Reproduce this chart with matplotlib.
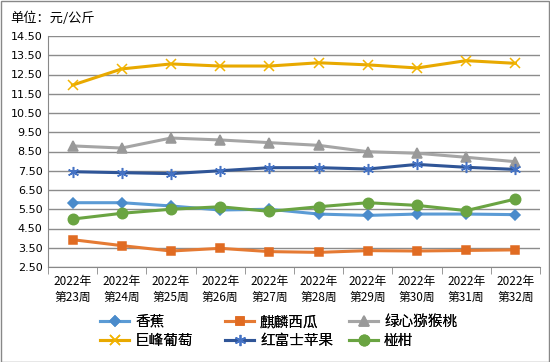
import numpy as np
import matplotlib
matplotlib.use('Agg')
import matplotlib.pyplot as plt
from matplotlib.patches import Rectangle

plt.rcParams['font.family'] = ['Noto Sans CJK SC', 'DejaVu Sans']

weeks = ['2022年\n第23周', '2022年\n第24周', '2022年\n第25周', '2022年\n第26周', '2022年\n第27周',
         '2022年\n第28周', '2022年\n第29周', '2022年\n第30周', '2022年\n第31周', '2022年\n第32周']

banana = [5.84, 5.84, 5.67, 5.46, 5.50, 5.25, 5.18, 5.25, 5.25, 5.22]
watermelon = [3.92, 3.61, 3.33, 3.47, 3.30, 3.26, 3.35, 3.33, 3.36, 3.39]
kiwi = [8.79, 8.68, 9.20, 9.10, 8.96, 8.82, 8.49, 8.41, 8.20, 7.97]
grape = [11.95, 12.79, 13.05, 12.94, 12.94, 13.11, 13.00, 12.84, 13.22, 13.08]
apple = [7.45, 7.40, 7.35, 7.50, 7.66, 7.66, 7.59, 7.83, 7.68, 7.57]
citrus = [4.99, 5.29, 5.50, 5.63, 5.39, 5.63, 5.84, 5.70, 5.43, 6.03]

yticks = np.arange(2.5, 14.51, 1.0)

series = [
    ('香蕉', banana, '#5B9BD5', '#4A8BCB', 'D', 5.5),
    ('麒麟西瓜', watermelon, '#E57A33', '#E06B22', 's', 6),
    ('绿心猕猴桃', kiwi, '#A5A5A5', '#999999', '^', 7),
    ('巨峰葡萄', grape, '#E8A900', '#F2B400', 'x', 7),
    ('红富士苹果', apple, '#2F5597', '#4472C4', (6, 2, 0), 8),
    ('椪柑', citrus, '#6AA442', '#6AA442', 'o', 7.5),
]

fig = plt.figure(figsize=(5.5, 3.62), dpi=100)
ax = fig.add_axes([48/550, 1 - 267/362, 492/550, 231/362])

x = np.arange(len(weeks))
handles = []
for name, vals, lc, mc, mk, ms in series:
    h, = ax.plot(x, vals, color=lc, lw=2.2, marker=mk, markersize=ms,
                 markerfacecolor=mc, markeredgecolor=mc, markeredgewidth=1.1, label=name)
    handles.append(h)

ax.set_xlim(-0.5, len(weeks) - 0.5)
ax.set_ylim(2.5, 14.5)
ax.set_yticks(yticks)
ax.set_yticklabels(['%.2f' % v for v in yticks], fontsize=8, family='DejaVu Sans')
ax.set_xticks(x)
ax.set_xticklabels(weeks, fontsize=8.5, linespacing=1.25)
ax.set_xticks(np.arange(-0.5, len(weeks)), minor=True)
ax.tick_params(axis='x', which='major', length=0, pad=6)
ax.tick_params(axis='x', which='minor', length=5, color='#888888')
ax.tick_params(axis='y', length=0, pad=4)
ax.grid(axis='y', color='#8C8C8C', lw=1)
ax.set_axisbelow(True)
for s in ['top', 'right']:
    ax.spines[s].set_visible(False)
ax.spines['left'].set_color('#888888')
ax.spines['bottom'].set_color('#888888')

fig.text(10/550, 1 - 18/362, '单位：元/公斤', fontsize=9.5, va='center', ha='left')

# legend: three fixed-width columns, filled row by row
col_x = [100, 225, 349]
for i, cx in enumerate(col_x):
    leg = fig.legend(handles=[handles[i], handles[i + 3]], loc='upper left',
                     bbox_to_anchor=(cx/550, 1 - 315/362), frameon=False,
                     fontsize=10.5, handlelength=2.0, handletextpad=0.4,
                     labelspacing=0.35, borderaxespad=0, borderpad=0)
    fig.add_artist(leg)

fig.patches.append(Rectangle((0.001, 0.001), 0.997, 0.996, transform=fig.transFigure,
                             fill=False, edgecolor='#888888', lw=1))

fig.savefig('out.png', dpi=100)
